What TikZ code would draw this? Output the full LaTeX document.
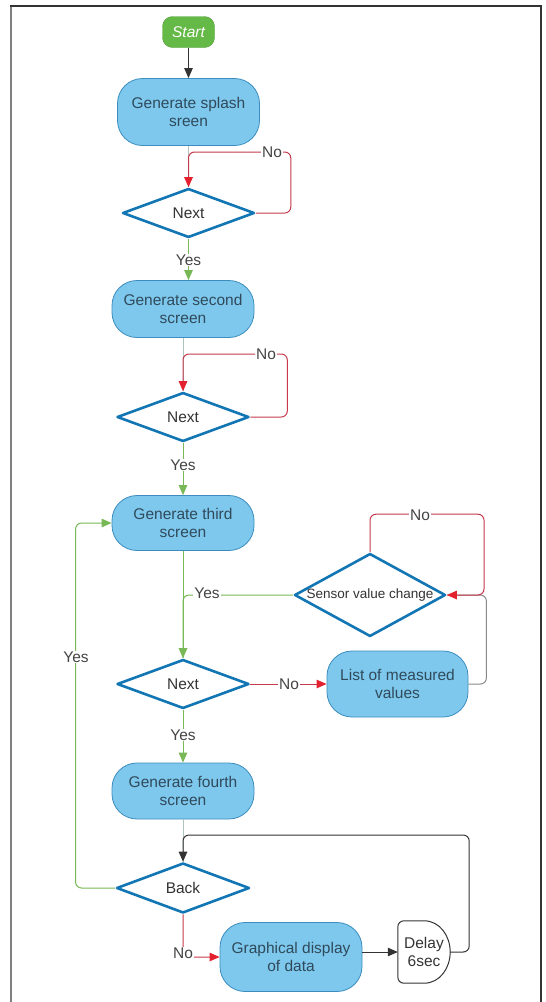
\documentclass[tikz,border=0pt]{standalone}
\usepackage{fontspec}
\setmainfont{Liberation Sans}
\usetikzlibrary{shapes.geometric,arrows.meta}
\definecolor{procfill}{HTML}{7DC8EC}
\definecolor{procline}{HTML}{3C8DBE}
\definecolor{decline}{HTML}{1276B4}
\definecolor{txt}{HTML}{304A5C}
\definecolor{lblc}{HTML}{444444}
\definecolor{nored}{HTML}{C43A4C}
\definecolor{nohead}{HTML}{E3212F}
\definecolor{yesgreen}{HTML}{78B856}
\definecolor{faint}{HTML}{AFC3BE}
\definecolor{startfill}{HTML}{65BA47}
\definecolor{dark}{HTML}{333333}
\definecolor{linkgray}{HTML}{8A8A8A}

\begin{document}
\begin{tikzpicture}[x=1pt,y=-1pt,
  base/.style={font=\fontsize{15.5}{18.5}\selectfont, align=center},
  proc/.style={base, rectangle, rounded corners=25pt, draw=procline, fill=procfill,
    line width=0.8pt, text=txt, minimum width=142pt, inner sep=0pt},
  dec/.style={base, diamond, draw=decline, line width=2.6pt, line join=round,
    fill=white, text=dark, inner sep=0pt},
  lbl/.style={base, text=lblc, fill=white, inner sep=1pt},
  conn/.style={line width=1pt, rounded corners=6pt},
  noline/.style={conn, draw=nored, -{Triangle[length=10pt,width=8.5pt,color=nohead]}},
  yesline/.style={conn, draw=yesgreen, -{Triangle[length=10pt,width=8.5pt,color=yesgreen]}},
  yesplain/.style={conn, draw=yesgreen},
  faintline/.style={conn, draw=faint},
  grayline/.style={conn, draw=linkgray},
  blackline/.style={conn, draw=dark, -{Triangle[length=10pt,width=8.5pt,color=dark]}}
]
% page and frame
\useasboundingbox (0,0) rectangle (546,1002);
\draw[line width=2pt, draw=gray] (11,1002) -- (11,6);
\draw[line width=2pt, draw=dark] (10,6) -- (541,6) -- (541,1002);

% nodes
\node[base, rectangle, rounded corners=10pt, fill=startfill, draw=startfill!85!black,
  text=white, minimum width=52pt, minimum height=31pt, inner sep=0pt,
  font=\fontsize{15.5}{18.5}\selectfont\itshape] (start) at (188.5,32) {Start};
\node[proc, minimum height=67pt] (splash) at (188.5,112) {Generate splash\\sreen};
\node[dec, minimum width=132pt, minimum height=49pt] (n1) at (188.5,213) {Next};
\node[proc, minimum height=57pt] (second) at (183,309) {Generate second\\screen};
\node[dec, minimum width=132pt, minimum height=49pt] (n2) at (183,417) {Next};
\node[proc, minimum height=55pt] (third) at (183,523) {Generate third\\screen};
\node[dec, minimum width=151pt, minimum height=83pt,
  font=\fontsize{13.5}{16}\selectfont] (sensor) at (370,595) {\makebox[0pt]{Sensor value change}};
\node[dec, minimum width=132pt, minimum height=49pt] (n3) at (183,684) {Next};
\node[proc, minimum width=141pt, minimum height=66pt] (list) at (397.5,684) {List of measured\\values};
\node[proc, minimum height=56pt] (fourth) at (183,791) {Generate fourth\\screen};
\node[dec, minimum width=133pt, minimum height=50pt] (back) at (183,888) {Back};
\node[proc, minimum height=69pt] (graph) at (291,957) {Graphical display\\of data};
\node[base, text=dark, minimum width=52pt, minimum height=62pt, inner sep=0pt] (delay) at (424,952) {Delay\\6sec};
\draw[line width=1pt, draw=dark] (delay.north) [rounded corners=6pt] -- (delay.north west)
  -- (delay.south west) [sharp corners] -- (delay.south)
  to[out=0,in=-90] (delay.east) to[out=90,in=0] (delay.north);

% connectors
\draw[blackline] (start.south) -- (splash.north);
\draw[faintline] (splash.south) -- (n1.north);
\draw[noline] (n1.east) -| ++(35,-61) -| (n1.north);
\draw[yesline] (n1.south) -- (n1.south |- second.north);
\draw[faintline] (second.south) -- (n2.north);
\draw[noline] (n2.east) -| ++(37,-63) -| (n2.north);
\draw[yesline] (n2.south) -- (third.north);
\draw[yesline] (third.south) -- (n3.north);
\draw[yesplain] (sensor.west) -| (n3.north);
\draw[noline] (n3.east) -- (list.west);
\draw[grayline] (list.east) -| ++(18,-89) -- (sensor.east);
\draw[noline] (sensor.north) |- ++(114,-38) |- (sensor.east);
\draw[yesline] (n3.south) -- (fourth.north);
\draw[faintline] (fourth.south) -- (back.north);
\draw[blackline] (delay.east) -| ++(19,-117) -| (back.north);
\draw[yesline] (back.west) -| ([xshift=-36pt]third.west) -- (third.west);
\draw[noline] (back.south) |- (graph.west);
\draw[blackline] (graph.east |- delay.west) -- (delay.west);

% connector labels
\node[lbl] (l1) at (272,152) {No};
\node[lbl] (l2) at (188.5,260) {Yes};
\node[lbl] (l3) at (266,354) {No};
\node[lbl] (l4) at (183,465) {Yes};
\node[lbl] (l5) at (207,593) {Yes};
\node[lbl] (l6) at (289,684) {No};
\node[lbl] (l7) at (420,515) {No};
\node[lbl] (l8) at (183,735) {Yes};
\node[lbl] (l9) at (76,657) {Yes};
\node[lbl] (l10) at (183,953) {No};
\end{tikzpicture}
\end{document}
